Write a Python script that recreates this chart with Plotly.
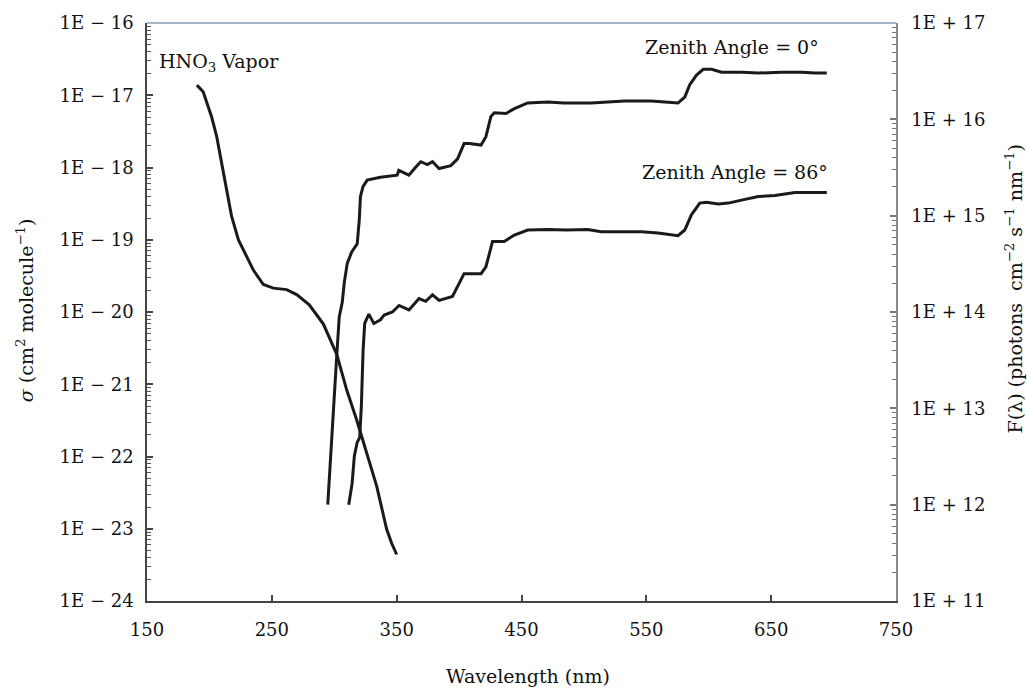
import plotly.graph_objects as go

# ---- data ----
hno3_wl = [190, 195, 201.8, 205.8, 209.8, 213.8, 217.8, 223.2, 229.9, 235.2, 243.2, 251.2,
           261.9, 269.9, 280, 291.3, 302, 310, 318, 326, 334, 342, 346, 350]
hno3_sigma = [1.38e-17, 1.12e-17, 5.0e-18, 2.7e-18, 1.15e-18, 4.9e-19, 2.1e-19, 1.0e-19,
              5.9e-20, 3.8e-20, 2.4e-20, 2.14e-20, 2.04e-20, 1.74e-20, 1.26e-20, 6.8e-21,
              2.6e-21, 8.3e-22, 3.2e-22, 1.12e-22, 3.9e-23, 9.8e-24, 6.3e-24, 4.4e-24]

z0_wl = [294.8, 297, 299.7, 301.8, 304, 306.4, 308, 310.4, 314, 318.4, 320, 321, 323, 326.4,
         337, 350.4, 351.7, 355, 359.8, 365, 369.3, 374.6, 378.7, 384, 393.4, 398.8, 404,
         408.2, 417.6, 421.5, 425.5, 428.2, 437.6, 444.3, 455, 471, 484, 505.8, 532.6, 554,
         570, 575.4, 580.8, 584.8, 590.2, 595.6, 602.3, 610.3, 626.3, 639.7, 658.4, 674.5,
         685.2, 694.6]
z0_flux = [1.0e12, 3.2e12, 1.23e13, 3.2e13, 8.9e13, 1.26e14, 2.0e14, 3.2e14, 4.2e14, 5.1e14,
           8.9e14, 1.58e15, 2.0e15, 2.34e15, 2.5e15, 2.63e15, 2.95e15, 2.8e15, 2.63e15,
           3.16e15, 3.63e15, 3.39e15, 3.63e15, 3.09e15, 3.31e15, 3.89e15, 5.6e15, 5.6e15,
           5.4e15, 6.6e15, 1.07e16, 1.17e16, 1.15e16, 1.29e16, 1.48e16, 1.51e16, 1.48e16,
           1.48e16, 1.55e16, 1.55e16, 1.51e16, 1.48e16, 1.70e16, 2.29e16, 2.88e16, 3.31e16,
           3.31e16, 3.09e16, 3.09e16, 3.02e16, 3.09e16, 3.09e16, 3.02e16, 3.02e16]

z86_wl = [311.6, 314.3, 316.1, 318.3, 320.4, 321.7, 323.1, 324.4, 327.7, 331.7, 337, 340,
          346.6, 351.9, 359.9, 367.9, 373.3, 378.7, 384, 394.7, 404, 417.6, 421.5, 426.8,
          436.2, 444.3, 455, 471, 486, 503, 513.9, 546, 559.4, 575.4, 580.8, 586.1, 592.8,
          598.2, 607.6, 615.6, 626.3, 639.7, 653, 669.1, 685.2, 694.6]
z86_flux = [1.0e12, 1.66e12, 3.2e12, 4.4e12, 5.0e12, 1.05e13, 4.0e13, 7.6e13, 9.5e13, 7.6e13,
            8.3e13, 9.3e13, 1.0e14, 1.17e14, 1.05e14, 1.38e14, 1.29e14, 1.51e14, 1.32e14,
            1.45e14, 2.5e14, 2.5e14, 2.95e14, 5.4e14, 5.4e14, 6.3e14, 7.1e14, 7.2e14, 7.1e14,
            7.2e14, 6.8e14, 6.8e14, 6.6e14, 6.2e14, 7.1e14, 1.02e15, 1.35e15, 1.38e15,
            1.32e15, 1.35e15, 1.45e15, 1.58e15, 1.62e15, 1.74e15, 1.74e15, 1.74e15]

x_ticks = [150, 250, 350, 450, 550, 650, 750]
left_exps = [-24, -23, -22, -21, -20, -19, -18, -17, -16]
right_exps = [11, 12, 13, 14, 15, 16, 17]

FONT = "DejaVu Serif"
LINE = "#1a1a1a"

left_vals = [10.0 ** e for e in left_exps]
left_text = ["1E \u2212 %d" % abs(e) for e in left_exps]
right_vals = [10.0 ** e for e in right_exps]
right_text = ["1E + %d" % e for e in right_exps]
left_minor = [k * 10.0 ** e for e in left_exps[:-1] for k in range(2, 10)]
right_minor = [k * 10.0 ** e for e in right_exps[:-1] for k in range(2, 10)]

fig = go.Figure()
fig.add_trace(go.Scatter(x=hno3_wl, y=hno3_sigma, mode="lines", yaxis="y",
                         line=dict(color=LINE, width=3), showlegend=False))
fig.add_trace(go.Scatter(x=z0_wl, y=z0_flux, mode="lines", yaxis="y2",
                         line=dict(color=LINE, width=3), showlegend=False))
fig.add_trace(go.Scatter(x=z86_wl, y=z86_flux, mode="lines", yaxis="y2",
                         line=dict(color=LINE, width=3), showlegend=False))

fig.update_layout(
    width=1027, height=689,
    margin=dict(l=147, r=131, t=23, b=88),
    paper_bgcolor="white", plot_bgcolor="white",
    font=dict(family=FONT, size=18, color="#111"),
    xaxis=dict(range=[150, 750], tickvals=x_ticks, ticktext=[str(v) for v in x_ticks],
               ticks="inside", ticklen=6, tickwidth=1.5, tickcolor="#444",
               showline=True, linecolor="#444", linewidth=1.5, showgrid=False,
               zeroline=False, ticklabelstandoff=12, tickfont=dict(size=18)),
    yaxis=dict(type="log", range=[-24, -16], tickvals=left_vals, ticktext=left_text,
               ticks="inside", ticklen=6, tickwidth=1.5, tickcolor="#444",
               minor=dict(tickvals=left_minor, ticks="inside", ticklen=4, tickwidth=1,
                          tickcolor="#555", showgrid=False),
               showline=True, linecolor="#444", linewidth=1.5, showgrid=False,
               zeroline=False, ticklabelstandoff=8, tickfont=dict(size=18)),
    yaxis2=dict(type="log", range=[11, 17], overlaying="y", side="right",
                tickvals=right_vals, ticktext=right_text,
                ticks="inside", ticklen=6, tickwidth=1.5, tickcolor="#777",
                minor=dict(tickvals=right_minor, ticks="inside", ticklen=4, tickwidth=1,
                           tickcolor="#777", showgrid=False),
                showline=True, linecolor="#888", linewidth=1.5, showgrid=False,
                zeroline=False, ticklabelstandoff=10, tickfont=dict(size=18)),
    shapes=[dict(type="line", xref="paper", yref="paper", x0=0, x1=1, y0=1, y1=1,
                 line=dict(color="#a3b7c4", width=2))],
    annotations=[
        dict(text="HNO<sub>3</sub> Vapor", xref="x", yref="y", x=158, y=-16.54,
             xanchor="left", yanchor="middle", showarrow=False, font=dict(size=19)),
        dict(text="Zenith Angle = 0\u00b0", xref="x", yref="y2", x=690, y=16.75,
             xanchor="right", yanchor="middle", showarrow=False, font=dict(size=19)),
        dict(text="Zenith Angle = 86\u00b0", xref="x", yref="y2", x=697, y=15.45,
             xanchor="right", yanchor="middle", showarrow=False, font=dict(size=19)),
        dict(text="Wavelength (nm)", xref="paper", yref="paper", x=0.509, y=-0.13,
             xanchor="center", yanchor="middle", showarrow=False, font=dict(size=19)),
        dict(text="<i>\u03c3</i> (cm<sup>2</sup> molecule<sup>\u22121</sup>)",
             xref="paper", yref="paper", x=-0.163, y=0.503, textangle=-90,
             xanchor="center", yanchor="middle", showarrow=False, font=dict(size=19)),
        dict(text="F(\u03bb) (photons  cm<sup>\u22122</sup> s<sup>\u22121</sup> nm<sup>\u22121</sup>)",
             xref="paper", yref="paper", x=1.157, y=0.54, textangle=-90,
             xanchor="center", yanchor="middle", showarrow=False, font=dict(size=19)),
    ],
)

# remove the default 8px page margin so the figure sits at the window origin
fig.write_html("out.html", config={"displayModeBar": False},
               post_script="document.body.style.margin='0';")
